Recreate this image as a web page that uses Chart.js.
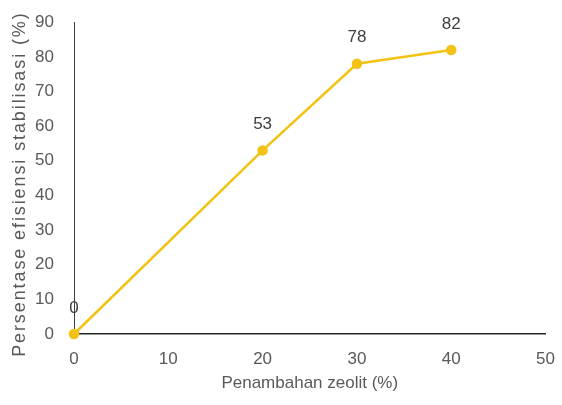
<!DOCTYPE html>
<html>
<head>
<meta charset="utf-8">
<script src="https://cdn.jsdelivr.net/npm/chart.js@4.4.1/dist/chart.umd.min.js"></script>
<style>
  html, body { margin: 0; padding: 0; background: #fff; }
  #chart { display: block; }
</style>
</head>
<body>
<canvas id="chart" width="562" height="405"></canvas>
<script>
// zeolite addition (%) vs stabilisation efficiency (%)
var zeolit = [0, 20, 30, 40];
var efisiensi = [0, 53, 78, 82];
var xTicks = [0, 10, 20, 30, 40, 50];
var yTicks = [0, 10, 20, 30, 40, 50, 60, 70, 80, 90];
var yTitle = 'Persentase efisiensi stabilisasi (%)';

var FONT = '"Liberation Sans", Arial, sans-serif';
var GOLD = '#F2C214';

var points = [];
for (var i = 0; i < zeolit.length; i++) {
	points.push({x: zeolit[i], y: efisiensi[i]});
}

// value labels above each point
var valueLabels = {
	id: 'valueLabels',
	afterDatasetsDraw: function(chart) {
		var ctx = chart.ctx;
		var meta = chart.getDatasetMeta(0);
		ctx.save();
		ctx.font = '17px ' + FONT;
		ctx.fillStyle = '#404040';
		ctx.textAlign = 'center';
		ctx.textBaseline = 'middle';
		meta.data.forEach(function(pt, idx) {
			ctx.fillText(String(efisiensi[idx]), pt.x, pt.y - 26);
		});
		ctx.restore();
	}
};

// rotated y title, spaced out a little
var yTitlePlugin = {
	id: 'yTitle',
	afterDraw: function(chart) {
		var ctx = chart.ctx;
		var area = chart.chartArea;
		ctx.save();
		ctx.translate(20, (area.top + area.bottom) / 2 + 6);
		ctx.rotate(-Math.PI / 2);
		ctx.font = '18px ' + FONT;
		if ('letterSpacing' in ctx) ctx.letterSpacing = '1.9px';
		ctx.fillStyle = '#595959';
		ctx.textAlign = 'center';
		ctx.textBaseline = 'middle';
		ctx.fillText(yTitle, 0, 0);
		ctx.restore();
	}
};

new Chart(document.getElementById('chart').getContext('2d'), {
	type: 'scatter',
	data: {
		datasets: [{
			data: points,
			showLine: true,
			borderColor: GOLD,
			backgroundColor: GOLD,
			borderWidth: 2.5,
			pointRadius: 4,
			pointHoverRadius: 4,
			clip: false
		}]
	},
	options: {
		responsive: false,
		animation: false,
		layout: { padding: { top: 12, right: 12, left: 0, bottom: 7 } },
		plugins: {
			legend: { display: false },
			tooltip: { enabled: false }
		},
		scales: {
			x: {
				type: 'linear',
				min: 0,
				max: 50,
				afterBuildTicks: function(axis) {
					axis.ticks = xTicks.map(function(v) { return {value: v}; });
				},
				afterFit: function(axis) { axis.height = 64; },
				grid: { display: false },
				border: { display: true, color: '#262626', width: 1.5 },
				ticks: { color: '#595959', font: { family: FONT, size: 17 }, padding: 7 },
				title: {
					display: true,
					text: 'Penambahan zeolit (%)',
					color: '#595959',
					font: { family: FONT, size: 17 },
					padding: { top: 0 }
				}
			},
			y: {
				type: 'linear',
				min: 0,
				max: 90,
				afterBuildTicks: function(axis) {
					axis.ticks = yTicks.map(function(v) { return {value: v}; });
				},
				afterFit: function(axis) { axis.width = 74; },
				grid: { display: false },
				border: { display: true, color: '#404040', width: 1 },
				ticks: { color: '#595959', font: { family: FONT, size: 17 }, padding: 12 },
				title: { display: false }
			}
		}
	},
	plugins: [valueLabels, yTitlePlugin]
});
</script>
</body>
</html>
